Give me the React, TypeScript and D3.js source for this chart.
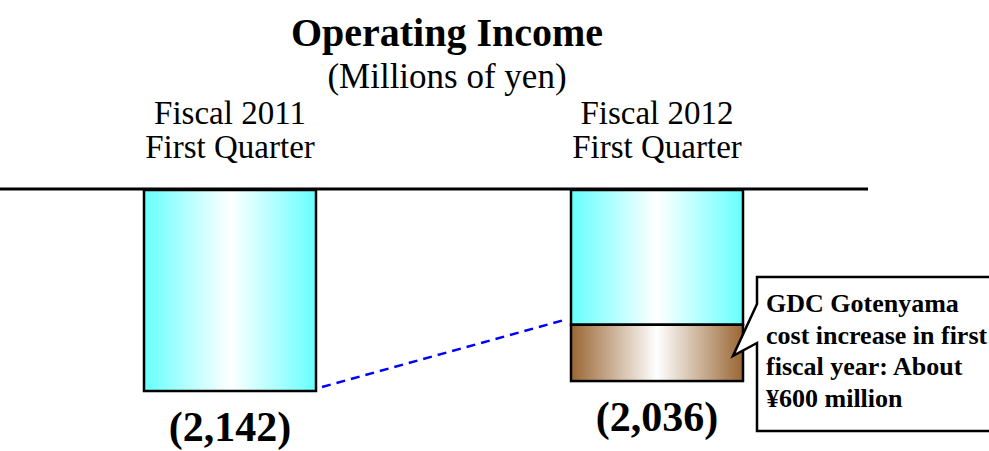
import React from 'react';
import * as d3 from 'd3';

// data
const periods = ['Fiscal 2011|First Quarter', 'Fiscal 2012|First Quarter'];
const operatingIncome = [2142, 2036];   // shown as losses, drawn below the zero line
const gotenyamaCost = [0, 600];          // part of the loss from GDC Gotenyama
const valueLabels = ['(2,142)', '(2,036)'];
const calloutLines = ['GDC Gotenyama', 'cost increase in first', 'fiscal year: About', '¥600 million'];

const width = 989, height = 451;
const zeroY = 190;
const barWidth = 172;
const serif = '"Liberation Serif", "Times New Roman", serif';

export default function App() {
  const x = d3.scalePoint<string>().domain(periods).range([230, 657]);
  const y = d3.scaleLinear().domain([0, 2142]).range([zeroY, zeroY + 201]);

  const b1 = { x: x(periods[0])! + barWidth / 2, y: y(operatingIncome[0] - gotenyamaCost[0]) };
  const b2 = { x: x(periods[1])! - barWidth / 2, y: y(operatingIncome[1] - gotenyamaCost[1]) };

  // callout with pointer to the brown segment
  const tipY = y(operatingIncome[1] - gotenyamaCost[1] / 2) + 3;
  const tipX = x(periods[1])! + barWidth / 2 - 10;
  const callout = d3.path();
  callout.moveTo(757, 277);
  callout.lineTo(995, 277);
  callout.lineTo(995, 431);
  callout.lineTo(757, 431);
  callout.lineTo(757, 343);
  callout.lineTo(tipX, tipY);
  callout.lineTo(757, 304);
  callout.closePath();

  return (
    <>
      <style>{'body{margin:0}'}</style>
      <svg width={width} height={height} style={{ display: 'block' }} fontFamily={serif}>
        <defs>
          <linearGradient id="cyan" x1="0" x2="1" y1="0" y2="0">
            <stop offset="0" stopColor="#66ffff" />
            <stop offset="0.5" stopColor="#ffffff" />
            <stop offset="1" stopColor="#66ffff" />
          </linearGradient>
          <linearGradient id="brown" x1="0" x2="1" y1="0" y2="0">
            <stop offset="0" stopColor="#996633" />
            <stop offset="0.5" stopColor="#ffffff" />
            <stop offset="1" stopColor="#996633" />
          </linearGradient>
        </defs>

        <text x={447} y={46} textAnchor="middle" fontSize={40} fontWeight="bold">Operating Income</text>
        <text x={447} y={88} textAnchor="middle" fontSize={35}>(Millions of yen)</text>

        {periods.map((p, i) => (
          <g key={p}>
            {p.split('|').map((t, j) => (
              <text key={j} x={x(p)} y={124 + j * 34} textAnchor="middle" fontSize={33}>{t}</text>
            ))}
          </g>
        ))}

        {periods.map((p, i) => {
          const left = x(p)! - barWidth / 2;
          const split = operatingIncome[i] - gotenyamaCost[i];
          return (
            <g key={'bar' + i} stroke="#000" strokeWidth={2.5}>
              <rect x={left} y={y(0)} width={barWidth} height={y(split) - y(0)} fill="url(#cyan)" />
              {gotenyamaCost[i] > 0 && (
                <rect x={left} y={y(split)} width={barWidth} height={y(operatingIncome[i]) - y(split)} fill="url(#brown)" />
              )}
            </g>
          );
        })}

        <line x1={0} x2={868} y1={zeroY - 1} y2={zeroY - 1} stroke="#000" strokeWidth={3} />

        <line x1={b1.x + 6} y1={b1.y - 4} x2={b2.x - 6} y2={b2.y - 5}
          stroke="#0000ff" strokeWidth={2.5} strokeDasharray="9,6" />

        {periods.map((p, i) => (
          <text key={'v' + i} x={x(p)} y={y(operatingIncome[i]) + 50} textAnchor="middle"
            fontSize={42} fontWeight="bold">{valueLabels[i]}</text>
        ))}

        <path d={callout.toString()} fill="#fff" stroke="#000" strokeWidth={2.5} />
        {calloutLines.map((t, i) => (
          <text key={t} x={766} y={312 + i * 31.7} fontSize={26} fontWeight="bold">{t}</text>
        ))}
      </svg>
    </>
  );
}
